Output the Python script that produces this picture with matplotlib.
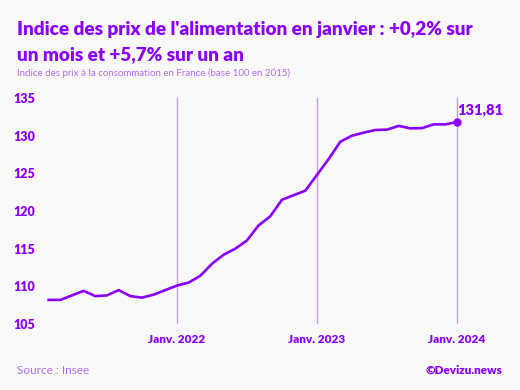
import matplotlib
matplotlib.use("Agg")
import matplotlib.pyplot as plt

# Data: monthly food price index, Feb 2021 -> Jan 2024 (month index: Jan 2021 = 0)
months = list(range(1, 37))
values = [108.2, 108.2, 108.8, 109.4, 108.7, 108.8, 109.5, 108.7, 108.5, 108.9, 109.5,
          110.1, 110.5, 111.4, 113.0, 114.2, 115.0, 116.1, 118.1,
          119.3, 121.5, 122.1, 122.7, 124.8, 126.9, 129.2, 130.0, 130.4, 130.75, 130.8,
          131.3, 130.97, 131.0, 131.5, 131.5, 131.81]
year_ticks = [12, 24, 36]
year_labels = ["Janv. 2022", "Janv. 2023", "Janv. 2024"]
y_ticks = [105, 110, 115, 120, 125, 130, 135]
last_label = "131,81"

BG = "#f9f9f9"
PURPLE = "#8a00ff"
LIGHT = "#c99cf5"
SUB = "#b46cf5"

plt.rcParams['font.family'] = ['Lato', 'DejaVu Sans']

W, H = 520, 390
fig = plt.figure(figsize=(W / 100, H / 100), dpi=100, facecolor=BG)

left_px = 177 - 12 * (140 / 12)
right_px = left_px + 40 * (140 / 12)
top_px, bot_px = 98, 324
ax = fig.add_axes([left_px / W, 1 - bot_px / H, (right_px - left_px) / W, (bot_px - top_px) / H])
ax.set_facecolor(BG)
ax.set_xlim(0, 40)
ax.set_ylim(105, 135)

for x in year_ticks:
    ax.axvline(x, color=LIGHT, lw=1.0, zorder=1)

ax.plot(months, values, color=PURPLE, lw=1.9, zorder=3, solid_joinstyle='round')
ax.plot([months[-1]], [values[-1]], 'o', color=PURPLE, ms=5, zorder=4)
ax.annotate(last_label, (months[-1], values[-1]), xytext=(0, 4.5), textcoords='offset points',
            ha='left', va='bottom', color=PURPLE, fontsize=10.5, fontweight='heavy')

for s in ax.spines.values():
    s.set_visible(False)
ax.set_yticks(y_ticks)
ax.set_yticklabels([str(v) for v in y_ticks])
ax.set_xticks(year_ticks)
ax.set_xticklabels(year_labels)
ax.tick_params(axis='y', length=0, pad=1.5, labelcolor=PURPLE, labelsize=9)
ax.tick_params(axis='x', length=0, pad=7, labelcolor=PURPLE, labelsize=8.5)
for lab in ax.get_yticklabels() + ax.get_xticklabels():
    lab.set_fontweight('heavy')

fig.text(17 / W, 1 - 30 / H, "Indice des prix de l'alimentation en janvier : +0,2% sur",
         color=PURPLE, fontsize=13.6, fontweight='heavy', ha='left', va='center')
fig.text(17 / W, 1 - 55 / H, "un mois et +5,7% sur un an",
         color=PURPLE, fontsize=13.6, fontweight='heavy', ha='left', va='center')
fig.text(17 / W, 1 - 73 / H, "Indice des prix à la consommation en France (base 100 en 2015)",
         color=SUB, fontsize=7, ha='left', va='center')
fig.text(17 / W, 1 - 370 / H, "Source : Insee", color=SUB, fontsize=8.5, ha='left', va='center')
fig.text(503 / W, 1 - 370 / H, "©Devizu.news", color=PURPLE, fontsize=8.5, fontweight='heavy',
         ha='right', va='center')

fig.savefig("out.png", dpi=100, facecolor=BG)
